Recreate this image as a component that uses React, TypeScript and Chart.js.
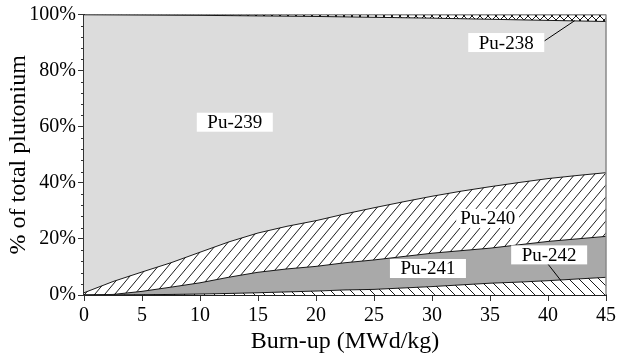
import React, { useEffect, useRef } from 'react';
import { Chart, registerables } from 'chart.js';

Chart.register(...registerables);

// ---- data (percent of total plutonium, stacked from bottom) ----
const burnup = [0, 2.5, 5, 7.5, 10, 12.5, 15, 17.5, 20, 22.5, 25, 27.5, 30, 32.5, 35, 37.5, 40, 42.5, 45];
const pu242 = [0, 0.05, 0.1, 0.2, 0.35, 0.55, 0.8, 1.1, 1.4, 1.8, 2.0, 2.5, 3.0, 3.6, 4.2, 4.6, 5.1, 5.7, 6.3];
const pu241 = [0, 0.15, 1.2, 2.6, 4.0, 5.8, 7.3, 8.2, 8.8, 9.7, 10.5, 11.2, 11.9, 12.2, 12.5, 13.3, 14.0, 14.3, 14.6];
const pu240 = [0.8, 4.6, 6.9, 8.7, 10.9, 12.6, 14.0, 15.2, 16.3, 17.4, 18.6, 19.5, 20.3, 21.2, 21.9, 22.2, 22.4, 22.6, 22.7];
const pu239 = [99.1, 95.05, 91.6, 88.25, 84.45, 80.65, 77.4, 74.9, 72.8, 70.25, 67.9, 65.65, 63.5, 61.5, 59.7, 58.0, 56.4, 55.1, 53.9];
const pu238 = [0.1, 0.15, 0.2, 0.25, 0.3, 0.4, 0.5, 0.6, 0.7, 0.85, 1.0, 1.15, 1.3, 1.5, 1.7, 1.9, 2.1, 2.3, 2.5];

const seriesNames = ['Pu-242', 'Pu-241', 'Pu-240', 'Pu-239', 'Pu-238'];
const xTickStep = 5;
const yTickStep = 20;
const xTitle = 'Burn-up (MWd/kg)';
const yTitle = '% of total plutonium';

// annotation labels (data coordinates) with optional leader lines
const noteText = ['Pu-238', 'Pu-239', 'Pu-240', 'Pu-241', 'Pu-242'];
const noteX = [36.4, 13.0, 34.8, 29.65, 40.1];
const noteY = [90.0, 61.6, 27.3, 9.45, 14.3];
const noteLineFrom: (number[] | null)[] = [[39.7, 90.6], null, null, null, [40.0, 11.0]];
const noteLineTo: (number[] | null)[] = [[42.3, 97.8], null, null, null, [41.1, 5.2]];

const FONT = "'Liberation Serif', 'Times New Roman', Times, serif";

function makeHatch(kind: 'fwd' | 'back' | 'cross', w: number, h: number, bg = '#ffffff') {
  const c = document.createElement('canvas');
  c.width = w;
  c.height = h;
  const g = c.getContext('2d')!;
  g.fillStyle = bg;
  g.fillRect(0, 0, w, h);
  g.strokeStyle = '#000';
  g.lineWidth = 0.9;
  g.beginPath();
  if (kind === 'fwd' || kind === 'cross') {
    g.moveTo(-w, 2 * h); g.lineTo(2 * w, -h);
    g.moveTo(-2 * w, 2 * h); g.lineTo(w, -h);
    g.moveTo(0, 2 * h); g.lineTo(3 * w, -h);
  }
  if (kind === 'back' || kind === 'cross') {
    g.moveTo(-w, -h); g.lineTo(2 * w, 2 * h);
    g.moveTo(-2 * w, -h); g.lineTo(w, 2 * h);
    g.moveTo(0, -h); g.lineTo(3 * w, 2 * h);
  }
  g.stroke();
  return g.createPattern(c, 'repeat')!;
}

const framePlugin = {
  id: 'frame',
  afterDatasetsDraw(chart: any) {
    const { ctx, chartArea, scales } = chart;
    const ys = scales.y;
    const xs = scales.x;
    ctx.save();
    // right border
    ctx.strokeStyle = '#8a8a8a';
    ctx.lineWidth = 1.5;
    ctx.beginPath();
    ctx.moveTo(chartArea.right, chartArea.top);
    ctx.lineTo(chartArea.right, chartArea.bottom);
    ctx.stroke();
    // minor y ticks
    ctx.strokeStyle = '#333';
    ctx.lineWidth = 1;
    for (let v = 0; v <= 100; v += 4) {
      if (v % yTickStep === 0) continue;
      const py = Math.round(ys.getPixelForValue(v)) + 0.5;
      ctx.beginPath();
      ctx.moveTo(chartArea.left - 3, py);
      ctx.lineTo(chartArea.left, py);
      ctx.stroke();
    }
    // leader lines
    ctx.strokeStyle = '#000';
    ctx.lineWidth = 1;
    for (let i = 0; i < noteText.length; i++) {
      const a = noteLineFrom[i];
      const b = noteLineTo[i];
      if (!a || !b) continue;
      ctx.beginPath();
      ctx.moveTo(xs.getPixelForValue(a[0]), ys.getPixelForValue(a[1]));
      ctx.lineTo(xs.getPixelForValue(b[0]), ys.getPixelForValue(b[1]));
      ctx.stroke();
    }
    // label boxes
    ctx.font = "19px 'Liberation Serif', serif";
    ctx.textAlign = 'center';
    ctx.textBaseline = 'middle';
    for (let i = 0; i < noteText.length; i++) {
      const px = xs.getPixelForValue(noteX[i]);
      const py = ys.getPixelForValue(noteY[i]);
      const tw = ctx.measureText(noteText[i]).width;
      const bw = noteText[i] === 'Pu-240' ? tw + 8 : 76;
      const bh = 19;
      ctx.fillStyle = '#ffffff';
      ctx.fillRect(px - bw / 2, py - bh / 2, bw, bh);
      ctx.fillStyle = '#000';
      ctx.fillText(noteText[i], px, py + 1);
    }
    ctx.restore();
  },
};

export default function App() {
  const canvasRef = useRef<HTMLCanvasElement | null>(null);

  useEffect(() => {
    const canvas = canvasRef.current!;
    Chart.defaults.font.family = FONT;
    Chart.defaults.color = '#000';

    const pat240 = makeHatch('fwd', 10, 12);
    const pat242 = makeHatch('back', 10, 10);
    const pat238 = makeHatch('cross', 8, 8);

    const series = [pu242, pu241, pu240, pu239, pu238];
    const fills: any[] = [pat242, '#a9a9a9', pat240, '#dcdcdc', pat238];

    const datasets = series.map((arr, i) => ({
      label: seriesNames[i],
      data: burnup.map((x, j) => ({ x, y: arr[j] })),
      backgroundColor: fills[i],
      borderColor: i === 4 ? '#222' : '#000',
      borderWidth: i === 4 ? 1.6 : 0.9,
      pointRadius: 0,
      tension: 0,
      fill: i === 0 ? 'origin' : '-1',
    }));

    const chart = new Chart(canvas, {
      type: 'line',
      data: { datasets },
      plugins: [framePlugin],
      options: {
        animation: false,
        responsive: false,
        maintainAspectRatio: false,
        layout: { padding: { top: 14.5, right: 14, left: 0, bottom: 0 } },
        plugins: {
          legend: { display: false },
          tooltip: { enabled: false },
        },
        scales: {
          x: {
            type: 'linear',
            min: 0,
            max: 45,
            afterFit: (s: any) => { s.height = 61; },
            ticks: { stepSize: xTickStep, font: { size: 20, family: FONT }, padding: 3, color: '#000', maxRotation: 0 },
            grid: { drawOnChartArea: false, drawTicks: true, tickLength: 6, color: '#333' },
            border: { display: true, color: '#222', width: 2 },
            title: { display: true, text: xTitle, font: { size: 24, family: FONT }, color: '#000', padding: { top: 0, bottom: 0 } },
          },
          y: {
            stacked: true,
            min: 0,
            max: 100,
            afterFit: (s: any) => { s.width = 84; },
            ticks: {
              stepSize: yTickStep,
              font: { size: 20, family: FONT },
              padding: 2,
              color: '#000',
              callback: (v: any) => `${v}%`,
            },
            grid: { drawOnChartArea: false, drawTicks: true, tickLength: 6, color: '#333' },
            border: { display: true, color: '#333', width: 2 },
            title: { display: true, text: yTitle, font: { size: 24, family: FONT }, color: '#000', padding: { top: 4, bottom: 0 } },
          },
        },
      },
    } as any);

    return () => chart.destroy();
  }, []);

  return (
    <div style={{ position: 'fixed', left: 0, top: 0, width: 620, height: 356, background: '#fff' }}>
      <canvas ref={canvasRef} width={620} height={356} style={{ width: 620, height: 356, display: 'block' }} />
    </div>
  );
}
